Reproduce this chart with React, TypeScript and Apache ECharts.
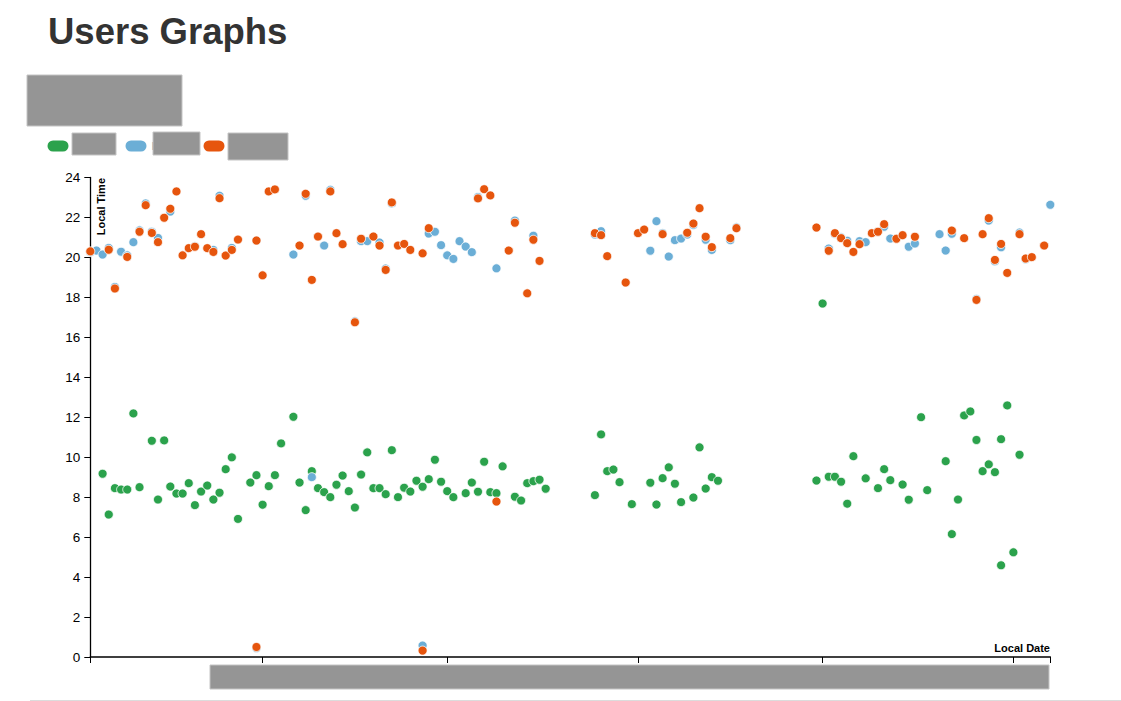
import React, { useEffect, useRef } from "react";
import * as echarts from "echarts";

// Day 0 = 4 Aug 2015; each point is [day offset, local time in hours]
const startYear = 2015;
const startMonth = 7;
const startDay = 4;
const lastDayOffset = 156;

const seriesNames = ["Wake", "Home", "Sleep"];
const seriesColors = ["#2ba24c", "#6baed6", "#e6550d"];

const yTicks = { min: 0, max: 24, interval: 2 };

const wakePoints: [number, number][] = [
  [2, 9.17], [3, 7.13], [4, 8.45], [5, 8.38], [6, 8.38], [7, 12.19], [8, 8.5], [10, 10.82], [11, 7.88],
  [12, 10.84], [13, 8.53], [14, 8.18], [15, 8.18], [16, 8.7], [17, 7.6], [18, 8.28], [19, 8.58], [20, 7.88],
  [21, 8.22], [22, 9.4], [23, 9.99], [24, 6.91], [26, 8.73], [27, 9.1], [28, 7.62], [29, 8.55], [30, 9.1],
  [31, 10.69], [33, 12.02], [34, 8.73], [35, 7.35], [36, 9.3], [37, 8.45], [38, 8.25], [39, 8.0], [40, 8.62],
  [41, 9.08], [42, 8.3], [43, 7.48], [44, 9.13], [45, 10.24], [46, 8.45], [47, 8.45], [48, 8.15], [49, 10.35],
  [50, 8.0], [51, 8.47], [52, 8.28], [53, 8.82], [54, 8.52], [55, 8.9], [56, 9.87], [57, 8.77], [58, 8.3],
  [59, 8.0], [61, 8.2], [62, 8.73], [63, 8.27], [64, 9.77], [65, 8.25], [66, 8.2], [67, 9.54], [69, 8.02],
  [70, 7.83], [71, 8.7], [72, 8.8], [73, 8.87], [74, 8.42], [82, 8.1], [83, 11.14], [84, 9.3], [85, 9.38],
  [86, 8.75], [88, 7.65], [91, 8.72], [92, 7.63], [93, 8.95], [94, 9.49], [95, 8.67], [96, 7.75], [98, 7.98],
  [99, 10.49], [100, 8.43], [101, 9.0], [102, 8.82], [118, 8.83], [119, 17.69], [120, 9.02], [121, 9.02],
  [122, 8.77], [123, 7.67], [124, 10.05], [126, 8.94], [128, 8.45], [129, 9.4], [130, 8.85], [132, 8.63],
  [133, 7.87], [135, 12.0], [136, 8.35], [139, 9.8], [140, 6.15], [141, 7.88], [142, 12.09], [143, 12.29],
  [144, 10.86], [145, 9.3], [146, 9.64], [147, 9.25], [148, 10.9], [148, 4.59], [149, 12.59], [150, 5.24],
  [151, 10.12],
];

const homePoints: [number, number][] = [
  [0, 20.26], [1, 20.34], [2, 20.14], [3, 20.47], [4, 18.52], [5, 20.28], [6, 20.1], [7, 20.76], [8, 21.35],
  [9, 22.7], [10, 21.28], [11, 20.97], [13, 22.29], [17, 20.55], [20, 20.37], [21, 23.08], [23, 20.47],
  [27, 20.84], [27, 0.45], [33, 20.14], [35, 23.08], [36, 9.0], [38, 20.59], [39, 23.38], [43, 16.8],
  [44, 20.81], [45, 20.81], [47, 20.74], [48, 19.44], [49, 22.7], [54, 0.57], [55, 21.19], [56, 21.28],
  [57, 20.61], [58, 20.1], [59, 19.92], [60, 20.81], [61, 20.54], [62, 20.26], [63, 23.02], [66, 19.45],
  [69, 21.84], [72, 21.08], [82, 21.14], [83, 21.31], [91, 20.33], [92, 21.81], [93, 21.21], [94, 20.04],
  [95, 20.86], [96, 20.94], [97, 21.14], [98, 21.62], [100, 20.88], [101, 20.37], [104, 20.86], [105, 21.5],
  [120, 20.44], [121, 21.17], [122, 21.0], [123, 20.83], [125, 20.81], [126, 20.76], [128, 21.28], [129, 21.53],
  [130, 20.94], [133, 20.53], [134, 20.69], [138, 21.16], [139, 20.34], [140, 21.18], [144, 17.92], [146, 21.84],
  [147, 19.8], [148, 20.5], [151, 21.24], [152, 19.9], [156, 22.63],
];

const sleepPoints: [number, number][] = [
  [0, 20.3], [3, 20.38], [4, 18.44], [6, 20.02], [8, 21.28], [9, 22.61], [10, 21.22], [11, 20.76], [12, 21.98],
  [13, 22.43], [14, 23.3], [15, 20.1], [16, 20.46], [17, 20.53], [18, 21.16], [19, 20.46], [20, 20.27],
  [21, 22.96], [22, 20.09], [23, 20.37], [24, 20.89], [27, 20.84], [27, 0.5], [28, 19.1], [29, 23.3], [30, 23.4],
  [34, 20.59], [35, 23.18], [36, 18.87], [37, 21.04], [39, 23.3], [40, 21.21], [41, 20.66], [43, 16.75],
  [44, 20.93], [46, 21.04], [47, 20.59], [48, 19.37], [49, 22.75], [50, 20.59], [51, 20.67], [52, 20.37],
  [54, 20.2], [54, 0.32], [55, 21.46], [63, 22.95], [64, 23.41], [65, 23.1], [66, 7.78], [68, 20.34],
  [69, 21.73], [71, 18.2], [72, 20.88], [73, 19.82], [82, 21.21], [83, 21.11], [84, 20.06], [87, 18.74],
  [89, 21.21], [90, 21.39], [93, 21.16], [97, 21.23], [98, 21.69], [99, 22.46], [100, 21.03], [101, 20.51],
  [104, 20.96], [105, 21.46], [118, 21.49], [120, 20.33], [121, 21.21], [122, 20.96], [123, 20.71], [124, 20.27],
  [125, 20.66], [127, 21.21], [128, 21.28], [129, 21.66], [131, 20.93], [132, 21.11], [134, 21.03], [140, 21.34],
  [142, 20.96], [144, 17.87], [145, 21.16], [146, 21.96], [147, 19.87], [148, 20.67], [149, 19.22], [151, 21.16],
  [152, 19.94], [153, 20.01], [155, 20.59],
];

const monthNames = [
  "January", "February", "March", "April", "May", "June", "July",
  "August", "September", "October", "November", "December",
];

const dayTime = (d: number) => new Date(startYear, startMonth, startDay + d).getTime();

const FONT = "'Liberation Sans', Arial, Helvetica, sans-serif";
const PILL = "path://M5.5,0 H15.5 A5.5,5.5 0 0 1 15.5,11 H5.5 A5.5,5.5 0 0 1 5.5,0 Z";

export default function App() {
  const ref = useRef<HTMLDivElement>(null);

  useEffect(() => {
    if (!ref.current) return;
    const chart = echarts.init(ref.current, undefined, { renderer: "svg" });
    const minT = dayTime(0);
    const maxT = dayTime(lastDayOffset);

    const pointSets = [wakePoints, homePoints, sleepPoints];

    chart.setOption({
      animation: false,
      textStyle: { fontFamily: FONT },
      legend: {
        left: 47.5,
        top: 140.5,
        padding: 0,
        icon: PILL,
        itemWidth: 21,
        itemHeight: 11,
        itemGap: 10,
        selectedMode: false,
        itemStyle: { borderWidth: 0 },
        data: seriesNames,
        textStyle: { fontSize: 11, lineHeight: 11, color: "#959595", width: 42, overflow: "truncate" },
      },
      grid: { left: 90.3, right: 70.7, top: 177.4, bottom: 44, containLabel: false },
      xAxis: [
        {
          type: "time",
          min: minT,
          max: maxT,
          splitNumber: 5,
          splitLine: { show: false },
          axisLine: { show: true, lineStyle: { color: "#000", width: 1.5 } },
          axisTick: { show: true, length: 6, inside: false, lineStyle: { color: "#000" } },
          axisLabel: {
            show: true,
            color: "#000",
            fontSize: 12,
            formatter: (v: number) => {
              const d = new Date(v);
              return d.getMonth() === 0 ? String(d.getFullYear()) : monthNames[d.getMonth()];
            },
          },
        },
        {
          type: "value",
          position: "bottom",
          min: 0,
          max: 1,
          interval: 1,
          splitLine: { show: false },
          axisLine: { show: false },
          axisTick: { show: true, length: 6, lineStyle: { color: "#000" } },
          axisLabel: { show: false },
        },
      ],
      yAxis: {
        type: "value",
        min: yTicks.min,
        max: yTicks.max,
        interval: yTicks.interval,
        splitLine: { show: false },
        axisLine: { show: true, lineStyle: { color: "#000", width: 1.3 } },
        axisTick: { show: true, length: 6, lineStyle: { color: "#000" } },
        axisLabel: { color: "#000", fontSize: 13.5, margin: 10, fontFamily: FONT },
      },
      series: pointSets.map((pts, i) => ({
        name: seriesNames[i],
        type: "scatter",
        xAxisIndex: 0,
        symbol: "circle",
        symbolSize: 9,
        z: 2 + i,
        itemStyle: { color: seriesColors[i], borderColor: "#fff", borderWidth: 0.8, opacity: 1 },
        data: pts.map(([d, v]) => [dayTime(d), v]),
      })),
      graphic: [
        {
          type: "text",
          x: 48,
          y: 31.5,
          z: 100,
          style: {
            text: "Users Graphs",
            font: `bold 36.5px ${FONT}`,
            fill: "#333",
            verticalAlign: "middle",
          },
        },
        { type: "rect", z: 100, shape: { x: 27, y: 75, width: 155, height: 51 }, style: { fill: "#959595", stroke: "#c4c4c4", lineWidth: 1 } },
        { type: "rect", z: 100, shape: { x: 72, y: 133, width: 44, height: 22 }, style: { fill: "#959595", stroke: "#c4c4c4", lineWidth: 1 } },
        { type: "rect", z: 100, shape: { x: 153, y: 132, width: 47, height: 23 }, style: { fill: "#959595", stroke: "#c4c4c4", lineWidth: 1 } },
        { type: "rect", z: 100, shape: { x: 228, y: 133, width: 60, height: 27 }, style: { fill: "#959595", stroke: "#c4c4c4", lineWidth: 1 } },
        { type: "rect", z: 100, shape: { x: 210, y: 665, width: 839, height: 24 }, style: { fill: "#959595", stroke: "#c4c4c4", lineWidth: 1 } },
        { type: "line", z: 100, shape: { x1: 30, y1: 700.5, x2: 1121, y2: 700.5 }, style: { stroke: "#dcdcdc", lineWidth: 1 } },
        {
          type: "text",
          x: 101,
          y: 178,
          rotation: Math.PI / 2,
          z: 100,
          style: { text: "Local Time", font: `bold 11px ${FONT}`, fill: "#000", align: "right", verticalAlign: "middle" },
        },
        {
          type: "text",
          x: 1050,
          y: 647.5,
          z: 100,
          style: { text: "Local Date", font: `bold 11px ${FONT}`, fill: "#000", align: "right", verticalAlign: "middle" },
        },
      ],
    });
    return () => chart.dispose();
  }, []);

  return (
    <div
      ref={ref}
      style={{ position: "fixed", left: 0, top: 0, width: 1121, height: 701, background: "#fff" }}
    />
  );
}
